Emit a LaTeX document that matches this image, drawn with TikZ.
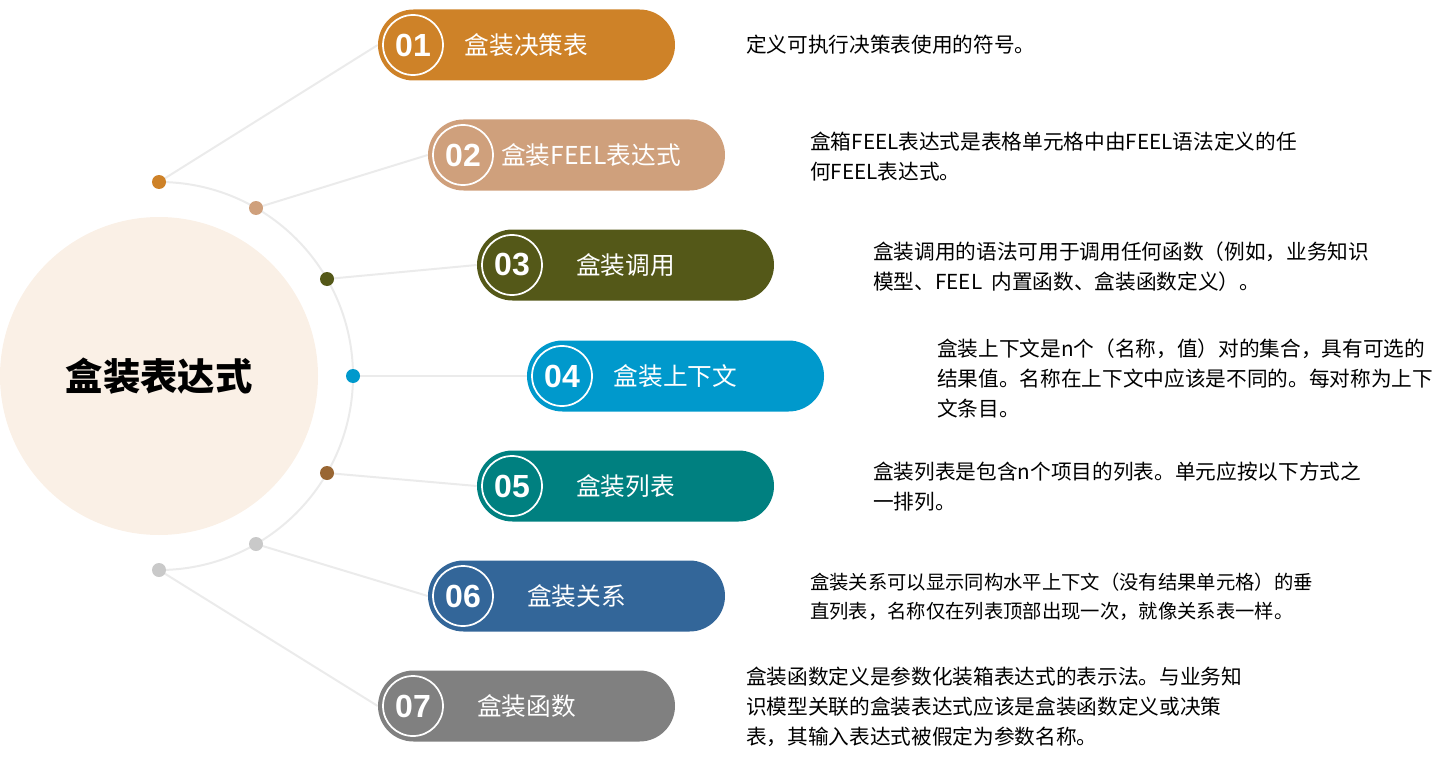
\documentclass[tikz,border=0pt]{standalone}
\usepackage{fontspec}
\setmainfont{Noto Sans CJK SC}
\newfontfamily\numfont{Liberation Sans}
\usetikzlibrary{positioning,shapes.misc,backgrounds}

\definecolor{cone}{HTML}{CE8228}
\definecolor{ctwo}{HTML}{CFA07C}
\definecolor{cthree}{HTML}{545818}
\definecolor{cfour}{HTML}{0099CC}
\definecolor{cfive}{HTML}{008080}
\definecolor{csix}{HTML}{336699}
\definecolor{cseven}{HTML}{808080}
\definecolor{dotbrown}{HTML}{996633}
\definecolor{dotgrey}{HTML}{C9C9C9}
\definecolor{hubfill}{HTML}{FAF0E6}
\definecolor{linkgrey}{HTML}{EBEBEB}

\begin{document}
\begin{tikzpicture}[x=0.75pt,y=-0.75pt]
      \tikzset{
	  hub/.style={circle, fill=hubfill, inner sep=0em, minimum size=238.5pt},
	  dot/.style={circle, inner sep=0em, minimum size=10.5pt},
	  pill/.style={rounded rectangle, inner sep=0em, minimum width=222.75pt, minimum height=53.25pt},
	  numring/.style={circle, draw=white, line width=1.3pt, inner sep=0em, minimum size=45pt, text=white, font=\numfont\bfseries\fontsize{24pt}{28pt}\selectfont},
	  pilltext/.style={text=white, inner sep=0em, font=\fontsize{18.5pt}{22pt}\selectfont},
	  desc/.style={anchor=west, align=left, inner sep=0em, font=\fontsize{15.5pt}{22.5pt}\selectfont},
	  link/.style={draw=linkgrey, line width=1.5pt},
      }
      \useasboundingbox (0,0) rectangle (1455,763);

      % centre
      \node (hub) at (159,376) [hub] {};
      \node at (hub) [font=\bfseries\fontsize{28pt}{34pt}\selectfont] {盒装表达式};

      % dots on the arc
      \node (d1) at (159,182) [dot, fill=cone] {};
      \node (d2) at (256,208) [dot, fill=ctwo] {};
      \node (d3) at (327,279) [dot, fill=cthree] {};
      \node (d4) at (353,376) [dot, fill=cfour] {};
      \node (d5) at (327,473) [dot, fill=dotbrown] {};
      \node (d6) at (256,544) [dot, fill=dotgrey] {};
      \node (d7) at (159,570) [dot, fill=dotgrey] {};

      % pills
      \node (p1) at (526.5,45) [pill, fill=cone] {};
      \node (n1) at (413,45) [numring] {01};
      \node at (p1) [pilltext] {盒装决策表};

      \node (p2) at (576.5,155) [pill, fill=ctwo] {};
      \node (n2) at (463,155) [numring] {02};
      \node at (591,155) [pilltext] {盒装FEEL表达式};

      \node (p3) at (625.5,265) [pill, fill=cthree] {};
      \node (n3) at (512,265) [numring] {03};
      \node at (p3) [pilltext] {盒装调用};

      \node (p4) at (675.5,376) [pill, fill=cfour] {};
      \node (n4) at (562,376) [numring] {04};
      \node at (p4) [pilltext] {盒装上下文};

      \node (p5) at (625.5,486) [pill, fill=cfive] {};
      \node (n5) at (512,486) [numring] {05};
      \node at (p5) [pilltext] {盒装列表};

      \node (p6) at (576.5,596) [pill, fill=csix] {};
      \node (n6) at (463,596) [numring] {06};
      \node at (p6) [pilltext] {盒装关系};

      \node (p7) at (526.5,706) [pill, fill=cseven] {};
      \node (n7) at (413,706) [numring] {07};
      \node at (p7) [pilltext] {盒装函数};

      % descriptions
      \node (t1) at (746,45) [desc] {定义可执行决策表使用的符号。};
      \node (t2) at (810,157) [desc] {盒箱FEEL表达式是表格单元格中由FEEL语法定义的任\\何FEEL表达式。};
      \node (t3) at (873,267) [desc] {盒装调用的语法可用于调用任何函数（例如，业务知识\\模型、FEEL\ \ 内置函数、盒装函数定义）。};
      \node (t4) at (937,378) [desc] {盒装上下文是n个（名称，值）对的集合，具有可选的\\结果值。名称在上下文中应该是不同的。每对称为上下\\文条目。};
      \node (t5) at (873,487) [desc] {盒装列表是包含n个项目的列表。单元应按以下方式之\\一排列。};
      \node (t6) at (810,597) [desc, font=\fontsize{14.5pt}{21.75pt}\selectfont] {盒装关系可以显示同构水平上下文（没有结果单元格）的垂\\直列表，名称仅在列表顶部出现一次，就像关系表一样。};
      \node (t7) at (746,707) [desc] {盒装函数定义是参数化装箱表达式的表示法。与业务知\\识模型关联的盒装表达式应该是盒装函数定义或决策\\表，其输入表达式被假定为参数名称。};

      \begin{scope}[on background layer]
	\draw [link] (d1.center) arc[start angle=-90, end angle=90, radius=194];
	\draw [link] (d1.center) -- (p1.west);
	\draw [link] (d2.center) -- (p2.west);
	\draw [link] (d3.center) -- (p3.west);
	\draw [link] (d4.center) -- (p4.west);
	\draw [link] (d5.center) -- (p5.west);
	\draw [link] (d6.center) -- (p6.west);
	\draw [link] (d7.center) -- (p7.west);
      \end{scope}
\end{tikzpicture}
\end{document}
